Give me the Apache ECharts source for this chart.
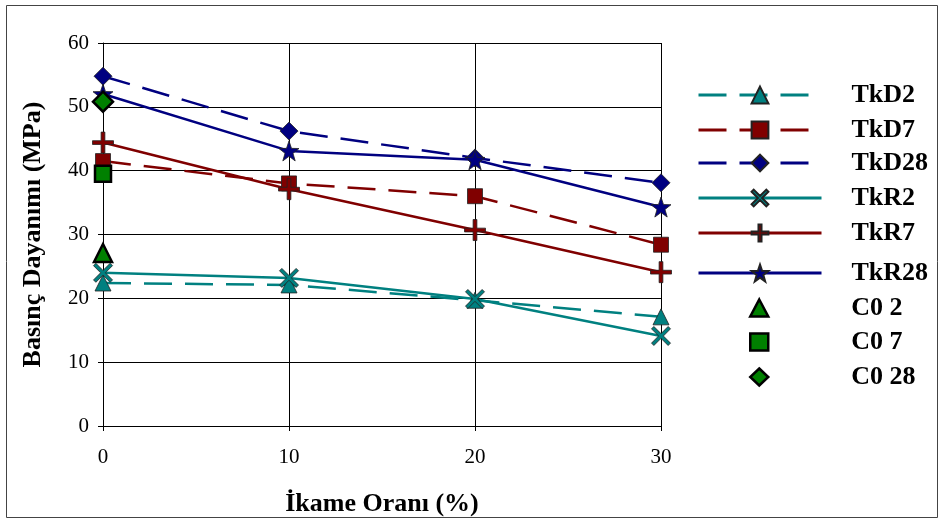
<!DOCTYPE html>
<html>
<head>
<meta charset="utf-8">
<script src="https://cdn.jsdelivr.net/npm/echarts@6/dist/echarts.min.js"></script>
<style>
  html, body { margin: 0; padding: 0; background: #fff; }
  #chart { width: 945px; height: 525px; }
</style>
</head>
<body>
<div id="chart"></div>
<script>
// ikame oranı (%)
const xValues = [0, 10, 20, 30];
const TkD2 = [22.4, 22.1, 19.7, 17.1];
const TkD7 = [41.5, 38.0, 36.0, 28.4];
const TkD28 = [54.8, 46.2, 42.0, 38.1];
const TkR2 = [24.0, 23.2, 19.9, 14.1];
const TkR7 = [44.4, 37.1, 30.7, 24.1];
const TkR28 = [52.0, 43.1, 41.7, 34.3];
const C0_2 = [27.1];
const C0_7 = [39.5];
const C0_28 = [50.8];

const TEAL = '#008080', RED = '#800000', NAVY = '#000080', GREEN = '#008000';
const FONT = '"Liberation Serif", "Times New Roman", serif';

const STAR = 'path://M0,-10 L2.35,-3.24 L9.51,-3.09 L3.8,1.24 L5.88,8.09 L0,4 L-5.88,8.09 L-3.8,1.24 L-9.51,-3.09 L-2.35,-3.24 Z';
const PLUS = 'path://M-1.8,-10 L1.8,-10 L1.8,-1.8 L10,-1.8 L10,1.8 L1.8,1.8 L1.8,10 L-1.8,10 L-1.8,1.8 L-10,1.8 L-10,-1.8 L-1.8,-1.8 Z';
const CROSS = 'path://M-10,-7.5 L-7.5,-10 L0,-2.5 L7.5,-10 L10,-7.5 L2.5,0 L10,7.5 L7.5,10 L0,2.5 L-7.5,10 L-10,7.5 L-2.5,0 Z';

const pairs = arr => arr.map((v, i) => [xValues[i], v]);

function lineSeries(name, data, color, dashed, symbol, size) {
    return {
        name: name,
        type: 'line',
        data: pairs(data),
        symbol: symbol,
        symbolSize: size,
        showAllSymbol: true,
        lineStyle: { color: color, width: 2.5, type: dashed ? [28, 13] : 'solid' },
        itemStyle: { color: color, borderColor: '#222', borderWidth: 0.8 },
        z: 3
    };
}
function pointSeries(name, data, symbol, size) {
    return {
        name: name,
        type: 'scatter',
        data: pairs(data),
        symbol: symbol,
        symbolSize: size,
        itemStyle: { color: GREEN, borderColor: '#000', borderWidth: 2.5, opacity: 1 },
        z: 4
    };
}

const series = [
    lineSeries('TkD2', TkD2, TEAL, true, 'triangle', 16),
    lineSeries('TkD7', TkD7, RED, true, 'rect', 15),
    lineSeries('TkD28', TkD28, NAVY, true, 'diamond', 18),
    lineSeries('TkR2', TkR2, TEAL, false, CROSS, 19),
    lineSeries('TkR7', TkR7, RED, false, PLUS, 21),
    lineSeries('TkR28', TkR28, NAVY, false, STAR, 20),
    pointSeries('C0 2', C0_2, 'triangle', 18),
    pointSeries('C0 7', C0_7, 'rect', 16),
    pointSeries('C0 28', C0_28, 'diamond', 20)
];

// one legend per entry so the rows sit where they do in the original
const legendTops = [82, 117, 150, 185, 220, 260, 295, 329, 364];
const legends = series.map((s, i) => {
    const isLine = s.type === 'line';
    const leg = {
        data: [s.name],
        left: isLine ? 697 : 749,
        top: legendTops[i],
        padding: 0,
        orient: 'vertical',
        itemWidth: isLine ? 123 : 18,
        itemHeight: isLine ? 21 : 17,
        selectedMode: false,
        lineStyle: { width: 3 },
        textStyle: {
            fontFamily: FONT, fontSize: 26, fontWeight: 'bold', color: '#000',
            padding: [0, 0, 0, isLine ? 25 : 78]
        }
    };
    if (!isLine) leg.itemStyle = { borderColor: '#000', borderWidth: 2.5 };
    return leg;
});

const chart = echarts.init(document.getElementById('chart'));
chart.setOption({
    animation: false,
    backgroundColor: '#fff',
    graphic: [{
        type: 'rect',
        shape: { x: 6.5, y: 5.5, width: 931, height: 512 },
        style: { fill: 'none', stroke: '#444', lineWidth: 1 },
        silent: true
    }],
    legend: legends,
    grid: { left: 103, right: 284, top: 43, bottom: 99 },
    xAxis: {
        type: 'value',
        min: 0, max: 30, interval: 10,
        name: 'İkame Oranı (%)',
        nameLocation: 'middle',
        nameGap: 65,
        nameTextStyle: { fontFamily: FONT, fontSize: 26, fontWeight: 'bold', color: '#000' },
        axisLine: { lineStyle: { color: '#000', width: 1 } },
        axisTick: { show: true, inside: false, length: 5, lineStyle: { color: '#000' } },
        axisLabel: { fontFamily: FONT, fontSize: 21, color: '#000', margin: 21 },
        splitLine: { show: true, lineStyle: { color: '#000', width: 1 } }
    },
    yAxis: {
        type: 'value',
        min: 0, max: 60, interval: 10,
        name: 'Basınç Dayanımı (MPa)',
        nameLocation: 'middle',
        nameGap: 57,
        nameTextStyle: { fontFamily: FONT, fontSize: 26, fontWeight: 'bold', color: '#000' },
        axisLine: { show: true, lineStyle: { color: '#000', width: 1 } },
        axisTick: { show: true, inside: false, length: 5, lineStyle: { color: '#000' } },
        axisLabel: { fontFamily: FONT, fontSize: 21, color: '#000', margin: 14 },
        splitLine: { show: true, lineStyle: { color: '#000', width: 1 } }
    },
    series: series
});
</script>
</body>
</html>
